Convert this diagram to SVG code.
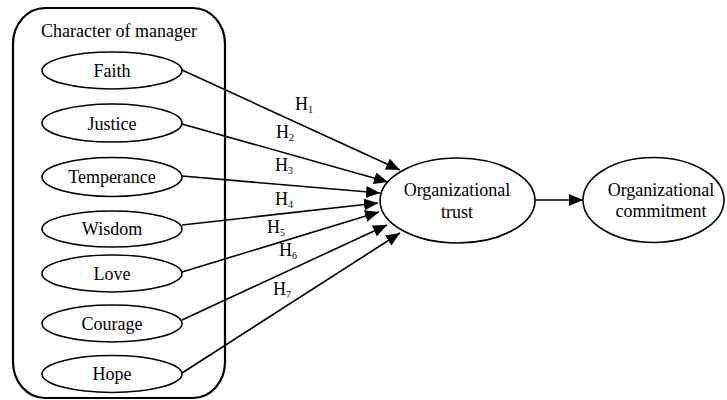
<svg xmlns="http://www.w3.org/2000/svg" width="727" height="400" viewBox="0 0 727 400">
<style>
text{font-family:"Liberation Serif","Times New Roman",serif;font-size:18px;fill:#000;text-anchor:middle}
.lab{text-anchor:start}
.sub{font-size:10px}
ellipse{fill:#fff;stroke:#000;stroke-width:1.6}
.box{fill:none;stroke:#000;stroke-width:2.2}
.c line{stroke:#000;stroke-width:1.6}
</style>
<defs>
<marker id="ah" viewBox="0 0 14 12" refX="14" refY="6" markerWidth="14" markerHeight="12" markerUnits="userSpaceOnUse" orient="auto">
<path d="M0,0 L14,6 L0,12 Z" fill="#000"/>
</marker>
</defs>
<g id="container">
<rect class="box" x="13" y="8" width="212" height="390" rx="32" ry="36"/>
<text x="119" y="37">Character of manager</text>
</g>
<g id="faith"><ellipse cx="112" cy="70.5" rx="70" ry="18.5"/><text x="112" y="77">Faith</text></g>
<g id="justice"><ellipse cx="112" cy="123" rx="70" ry="19"/><text x="112" y="130">Justice</text></g>
<g id="temperance"><ellipse cx="112" cy="177" rx="70" ry="19.5"/><text x="112" y="183">Temperance</text></g>
<g id="wisdom"><ellipse cx="112" cy="229" rx="70" ry="18"/><text x="112" y="235">Wisdom</text></g>
<g id="love"><ellipse cx="112" cy="273.5" rx="70" ry="18.5"/><text x="112" y="280">Love</text></g>
<g id="courage"><ellipse cx="112" cy="323.5" rx="70" ry="18.5"/><text x="112" y="330">Courage</text></g>
<g id="hope"><ellipse cx="112" cy="374" rx="70" ry="18.5"/><text x="112" y="380">Hope</text></g>
<g id="trust"><ellipse cx="457.5" cy="200.5" rx="77.5" ry="42.5"/><text x="457" y="196">Organizational</text><text x="457" y="218">trust</text></g>
<g id="commitment"><ellipse cx="653.5" cy="200" rx="70.5" ry="42.5"/><text x="661" y="196">Organizational</text><text x="661" y="217">commitment</text></g>
<g class="c" id="connectors">
<line x1="182" y1="70" x2="400" y2="170" marker-end="url(#ah)"/>
<line x1="182" y1="124" x2="388" y2="182" marker-end="url(#ah)"/>
<line x1="182" y1="176" x2="380" y2="193" marker-end="url(#ah)"/>
<line x1="182" y1="225" x2="378" y2="203" marker-end="url(#ah)"/>
<line x1="182" y1="272" x2="379" y2="212" marker-end="url(#ah)"/>
<line x1="182" y1="320" x2="387" y2="225" marker-end="url(#ah)"/>
<line x1="182" y1="373" x2="400" y2="233" marker-end="url(#ah)"/>
<line x1="535" y1="200" x2="583" y2="200" marker-end="url(#ah)"/>
</g>
<g id="labels">
<text class="lab" x="295" y="110">H<tspan class="sub" dy="3">1</tspan></text>
<text class="lab" x="276" y="138">H<tspan class="sub" dy="3">2</tspan></text>
<text class="lab" x="275" y="171">H<tspan class="sub" dy="3">3</tspan></text>
<text class="lab" x="275" y="205">H<tspan class="sub" dy="3">4</tspan></text>
<text class="lab" x="267" y="233">H<tspan class="sub" dy="3">5</tspan></text>
<text class="lab" x="279" y="256">H<tspan class="sub" dy="3">6</tspan></text>
<text class="lab" x="273" y="295">H<tspan class="sub" dy="3">7</tspan></text>
</g>
</svg>
